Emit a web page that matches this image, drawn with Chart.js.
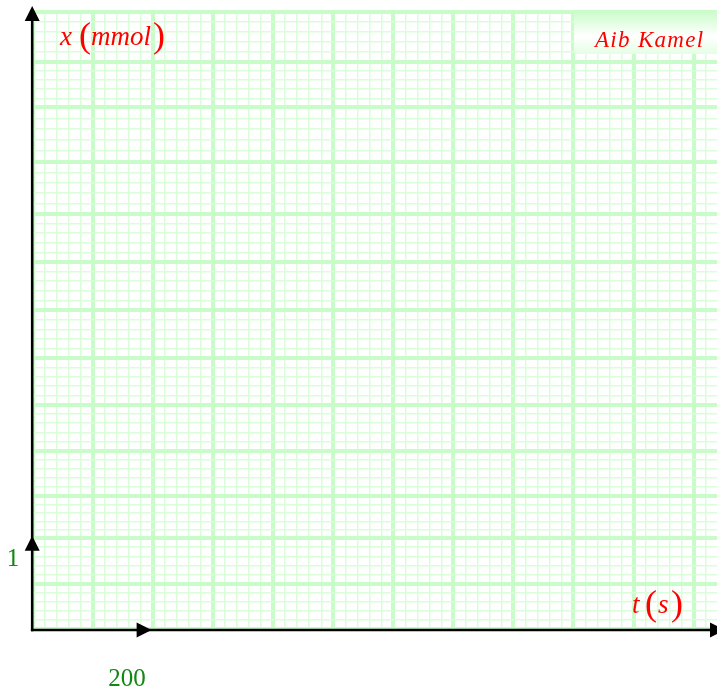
<!DOCTYPE html>
<html><head><meta charset="utf-8">
<script src="https://cdn.jsdelivr.net/npm/chart.js@4/dist/chart.umd.min.js"></script>
<style>html,body{margin:0;padding:0;background:#fff;overflow:hidden}#wrap{width:717px;height:695px;position:relative}</style>
</head><body><div id="wrap"><canvas id="c" width="717" height="695"></canvas></div>
<script>
// ---- data ----
const xUnitTicks = [200];          // s, marked by the small arrow on t axis
const xUnitLabels = ['200'];
const yUnitTicks = [1];            // mmol, marked by the small arrow on x axis
const yUnitLabels = ['1'];
const xMajorStep = 100;            // s per major cell
const xMinorPerMajor = 5;
const xMax = 1139;
const yMajorGrid = [0, 0.5, 1, 1.46, 1.96, 2.47, 2.98, 3.51, 4.04, 4.57, 5.14, 5.74, 6.24, 6.79];
const yMinorPerMajor = 5;
const xTitleParts = ['t', 's'];
const yTitleParts = ['x', 'mmol'];
const signature = 'Aib Kamel';

const GRID = '#c8fcc8';
const GRID_MINOR = '#d9fed9';
const SERIF = '"Liberation Serif", "DejaVu Serif", serif';

function gridWidth(ctx){ return ctx.tick && ctx.tick.major ? 4 : 1.5; }
function gridColor(ctx){ return ctx.tick && ctx.tick.major ? GRID : GRID_MINOR; }

const decor = {
  id: 'decor',
  afterDraw(chart){
    const c = chart.ctx, a = chart.chartArea;
    const xs = chart.scales.x, ys = chart.scales.y;
    c.save();
    // signature box
    const bx = 574, by = a.top - 2, bw = chart.width - bx, bh = 44;
    const g = c.createLinearGradient(0, by, 0, by + bh);
    g.addColorStop(0, '#c8fcc8'); g.addColorStop(0.6, '#ffffff'); g.addColorStop(1, '#e4ffe4');
    c.fillStyle = g; c.fillRect(bx, by, bw, bh);
    c.fillStyle = 'red';
    c.font = 'italic 23px ' + SERIF;
    c.textBaseline = 'alphabetic';
    c.letterSpacing = '1.3px';
    c.fillText(signature, 595, 47);
    c.letterSpacing = '0px';

    // y title x (mmol)
    c.font = 'italic 27px ' + SERIF; c.fillText(yTitleParts[0], 60, 45);
    c.font = '36px ' + SERIF; c.fillText('(', 79, 47);
    c.font = 'italic 27px ' + SERIF; c.fillText(yTitleParts[1], 91, 45);
    c.font = '36px ' + SERIF; c.fillText(')', 153, 47);
    // x title t (s)
    c.font = 'italic 27px ' + SERIF; c.fillText(xTitleParts[0], 632, 613);
    c.font = '36px ' + SERIF; c.fillText('(', 645, 615);
    c.font = 'italic 27px ' + SERIF; c.fillText(xTitleParts[1], 658, 613);
    c.font = '36px ' + SERIF; c.fillText(')', 671, 615);

    // axes
    const ox = xs.getPixelForValue(0) - 0.8, oy = ys.getPixelForValue(0) + 1;
    c.strokeStyle = '#000'; c.fillStyle = '#000'; c.lineWidth = 2.6;
    c.beginPath(); c.moveTo(ox, oy + 1.3); c.lineTo(ox, a.top + 6); c.stroke();
    c.beginPath(); c.moveTo(ox - 1.3, oy); c.lineTo(chart.width, oy); c.stroke();
    function tri(x1,y1,x2,y2,x3,y3){ c.beginPath(); c.moveTo(x1,y1); c.lineTo(x2,y2); c.lineTo(x3,y3); c.closePath(); c.fill(); }
    // main arrowheads
    tri(ox, a.top - 6, ox - 7.5, a.top + 9, ox + 7.5, a.top + 9);
    tri(a.right + 8, oy, a.right - 7, oy - 7.5, a.right - 7, oy + 7.5);
    // unit arrows
    const uy = ys.getPixelForValue(yUnitTicks[0]) - 2.5;
    tri(ox, uy, ox - 7.5, uy + 15, ox + 7.5, uy + 15);
    const ux = xs.getPixelForValue(xUnitTicks[0]) - 1.5;
    tri(ux, oy, ux - 15, oy - 7.5, ux - 15, oy + 7.5);

    // unit labels
    c.fillStyle = '#118811';
    c.font = '25px ' + SERIF;
    c.textAlign = 'center';
    c.fillText(yUnitLabels[0], 13, ys.getPixelForValue(yUnitTicks[0]) + 28);
    c.fillText(xUnitLabels[0], xs.getPixelForValue(xUnitTicks[0]) - 26, 686);
    c.restore();
  }
};

new Chart(document.getElementById('c'), {
  type: 'scatter',
  data: { datasets: [{ data: [], pointRadius: 0 }] },
  options: {
    responsive: false, animation: false, devicePixelRatio: 1,
    layout: { padding: { left: 33, top: 12, right: 0, bottom: 66 } },
    plugins: { legend: { display: false }, tooltip: { enabled: false } },
    scales: {
      x: {
        type: 'linear', min: 0, max: xMax,
        border: { display: false },
        ticks: { display: false },
        grid: { drawTicks: false, color: gridColor, lineWidth: gridWidth },
        afterBuildTicks(s){
          const step = xMajorStep / xMinorPerMajor, t = [];
          for (let i = 0; i * step <= xMax; i++) t.push({ value: i * step, major: i % xMinorPerMajor === 0 });
          s.ticks = t;
        }
      },
      y: {
        type: 'linear', min: 0, max: yMajorGrid[yMajorGrid.length - 1],
        border: { display: false },
        ticks: { display: false },
        grid: { drawTicks: false, color: gridColor, lineWidth: gridWidth },
        afterBuildTicks(s){
          const t = [];
          for (let i = 0; i < yMajorGrid.length; i++) {
            t.push({ value: yMajorGrid[i], major: true });
            if (i < yMajorGrid.length - 1) {
              const d = (yMajorGrid[i + 1] - yMajorGrid[i]) / yMinorPerMajor;
              for (let k = 1; k < yMinorPerMajor; k++) t.push({ value: yMajorGrid[i] + k * d, major: false });
            }
          }
          s.ticks = t;
        }
      }
    }
  },
  plugins: [decor]
});
</script></body></html>
